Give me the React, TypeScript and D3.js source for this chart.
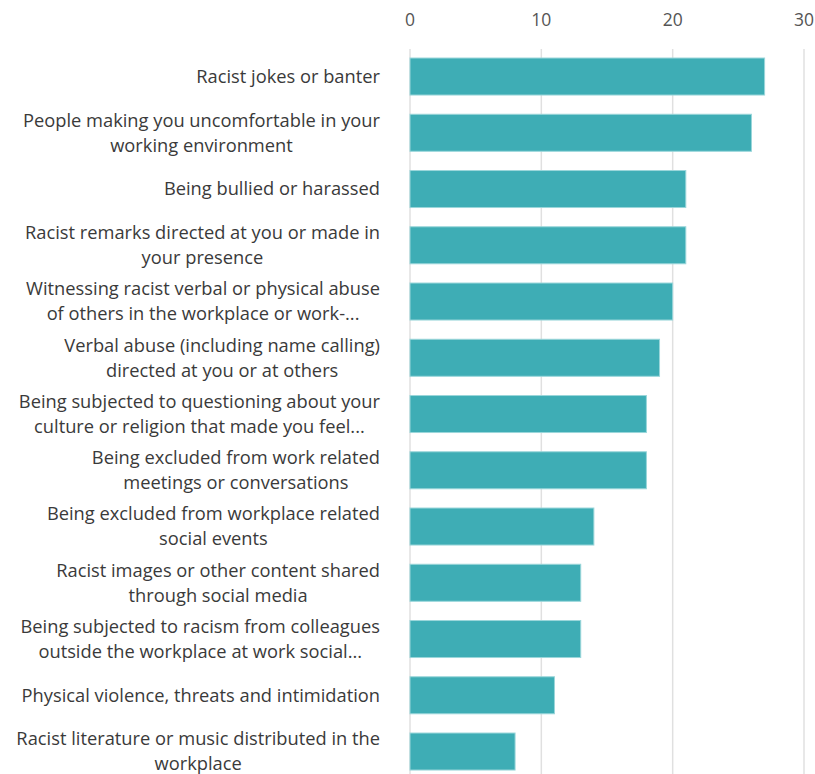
import React, { useEffect, useRef } from "react";
import * as d3 from "d3";

// category labels, already broken into lines as shown in the chart
const categories: string[][] = [
  ["Racist jokes or banter"],
  ["People making you uncomfortable in your", "working environment"],
  ["Being bullied or harassed"],
  ["Racist remarks directed at you or made in", "your presence"],
  ["Witnessing racist verbal or physical abuse", "of others in the workplace or work-..."],
  ["Verbal abuse (including name calling)", "directed at you or at others"],
  ["Being subjected to questioning about your", "culture or religion that made you feel..."],
  ["Being excluded from work related", "meetings or conversations"],
  ["Being excluded from workplace related", "social events"],
  ["Racist images or other content shared", "through social media"],
  ["Being subjected to racism from colleagues", "outside the workplace at work social..."],
  ["Physical violence, threats and intimidation"],
  ["Racist literature or music distributed in the", "workplace"],
];

const values = [27, 26, 21, 21, 20, 19, 18, 18, 14, 13, 13, 11, 8];

const xTicks = [0, 10, 20, 30];

const WIDTH = 815;
const HEIGHT = 774;
const FONT = "'Segoe UI', 'Open Sans', sans-serif";

export default function App() {
  const svgRef = useRef<SVGSVGElement>(null);

  useEffect(() => {
    if (!svgRef.current) return;
    const svg = d3.select(svgRef.current);
    svg.selectAll("*").remove();

    const keys = categories.map((c) => c.join(" "));

    const x = d3.scaleLinear().domain([0, 30]).range([410, 804]);
    const y = d3
      .scaleBand<string>()
      .domain(keys)
      .range([48.4, 48.4 + 56.25 * keys.length])
      .paddingInner(0.342)
      .paddingOuter(0.171);

    // grid
    svg
      .append("g")
      .selectAll("line")
      .data(xTicks)
      .enter()
      .append("line")
      .attr("x1", (d) => x(d))
      .attr("x2", (d) => x(d))
      .attr("y1", 49)
      .attr("y2", HEIGHT)
      .attr("stroke", "#e0e0e0")
      .attr("stroke-width", 1.5);

    // tick labels
    svg
      .append("g")
      .selectAll("text")
      .data(xTicks)
      .enter()
      .append("text")
      .attr("x", (d) => x(d))
      .attr("y", 20)
      .attr("dy", "0.35em")
      .attr("text-anchor", "middle")
      .style("font-family", FONT)
      .style("font-size", "17.5px")
      .style("fill", "#555")
      .text((d) => d);

    // bars
    svg
      .append("g")
      .selectAll("rect")
      .data(values)
      .enter()
      .append("rect")
      .attr("x", x(0))
      .attr("y", (_, i) => y(keys[i]) as number)
      .attr("width", (d) => x(d) - x(0))
      .attr("height", y.bandwidth())
      .attr("fill", "#3eadb5")
      .attr("stroke", "#9ad6da")
      .attr("stroke-width", 1);

    // category labels: block right-aligned, lines centred in the block
    const labelRight = 380;
    const lineH = 25;
    categories.forEach((lines, i) => {
      const cy = (y(keys[i]) as number) + y.bandwidth() / 2;
      const g = svg.append("g");
      const texts = lines.map((line, j) =>
        g
          .append("text")
          .attr("y", cy + (j - (lines.length - 1) / 2) * lineH)
          .attr("dy", "0.35em")
          .attr("text-anchor", "middle")
          .style("font-family", FONT)
          .style("font-size", "18.3px")
          .style("fill", "#3a3a3a")
          .text(line)
      );
      const maxW = d3.max(texts, (t) => (t.node() as SVGTextElement).getComputedTextLength()) || 0;
      texts.forEach((t) => t.attr("x", labelRight - maxW / 2));
    });
  }, []);

  return (
    <div style={{ position: "absolute", left: 0, top: 0, background: "#fff" }}>
      <svg ref={svgRef} width={WIDTH} height={HEIGHT} style={{ display: "block" }} />
    </div>
  );
}
